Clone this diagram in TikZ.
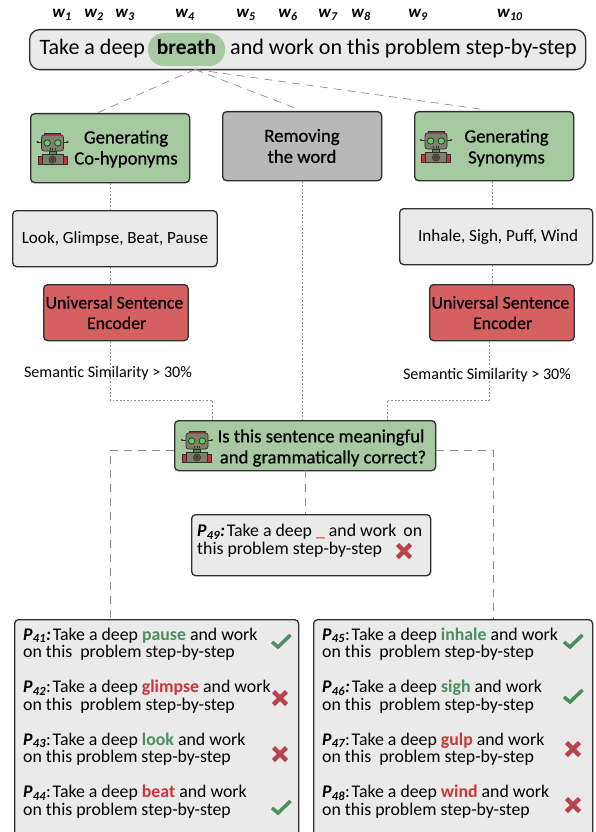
\documentclass[tikz,border=0pt]{standalone}
\usepackage{fontspec}
\setmainfont{Carlito}
\newfontfamily\semi[FakeBold=0.6]{Carlito}
\definecolor{boxgrey}{HTML}{EAEAEA}
\definecolor{boxgreen}{HTML}{A7C9A2}
\definecolor{boxdark}{HTML}{B8B8B8}
\definecolor{boxred}{HTML}{D56062}
\definecolor{outl}{HTML}{2F2F2F}
\definecolor{okgreen}{HTML}{4A8F5C}
\definecolor{badred}{HTML}{C9373A}
\definecolor{crossred}{HTML}{B8434A}
\definecolor{dashgrey}{HTML}{8C8C8C}
\definecolor{robotbody}{HTML}{7F7F6B}
\definecolor{robotred}{HTML}{C8343C}
\definecolor{roboteye}{HTML}{5FD35F}
\tikzset{
  x=1pt,y=-1pt,
  base/.style={draw=outl,line width=1.3pt,rounded corners=4pt,inner sep=0pt,align=center,text=black},
  greybox/.style={base,fill=boxgrey},
  greenbox/.style={base,fill=boxgreen},
  darkbox/.style={base,fill=boxdark},
  redbox/.style={base,fill=boxred},
  dashconn/.style={draw=dashgrey,line width=.7pt,dash pattern=on 8pt off 6pt},
  dotconn/.style={draw=dashgrey,line width=.8pt,dash pattern=on 1.8pt off 1.8pt},
  wlabel/.style={inner sep=0pt,font=\fontsize{17}{17}\selectfont\bfseries\itshape},
  plain/.style={inner sep=0pt,align=left,anchor=north west},
  ptext/.style={plain,font=\fontsize{17.8}{17.5}\selectfont},
  boxtext/.style={align=center,font=\fontsize{18.7}{21}\selectfont\semi},
  usetext/.style={align=center,font=\fontsize{17.8}{20.5}\selectfont\semi},
  check/.pic={\draw[okgreen,line width=3.5pt] (-9,1)--(-3,6)--(9.5,-6);},
  cross/.pic={\draw[crossred,line width=4.5pt] (-6.5,-6.5)--(6.5,6.5) (-6.5,6.5)--(6.5,-6.5);},
  robot/.pic={
    \draw[outl,line width=.5pt] (-15,-7)--(15,-7);
    \fill[outl] (-15,-7) circle (1.1) (15,-7) circle (1.1);
    \draw[outl,line width=.6pt,fill=robotred] (-8,-16) rectangle (8,-13);
    \draw[outl,line width=.7pt,fill=robotbody,rounded corners=2.5pt] (-11,-14) rectangle (11,2);
    \draw[outl,line width=.7pt,fill=roboteye] (-5.3,-6) circle (3.2) (5.3,-6) circle (3.2);
    \foreach \mx in {-2.5,0,2.5}{\draw[outl,line width=.6pt] (\mx,-1) -- (\mx,.6);}
    \draw[outl,line width=.5pt,fill=okgreen] (-3.5,2) rectangle (3.5,5);
    \draw[outl,line width=.7pt,fill=robotred] (-14.5,7) rectangle (14.5,15.5);
    \draw[outl,line width=.7pt,fill=robotbody] (-10.5,5) rectangle (10.5,15.5);
    \draw[outl,line width=.6pt,fill=robotbody!70!black] (0,10.5) circle (3.6);
    \draw[outl,line width=.5pt] (0,10.5) circle (1.6);
  }
}
\newcommand{\wl}[1]{w\kern.3pt\textsubscript{#1}}
\newcommand{\pl}[2]{\textbf{\textit{P\kern.3pt\textsubscript{#1}}}#2\kern-3.5pt\relax}
\newcommand{\gw}[1]{{\color{okgreen}\textbf{#1}}}
\newcommand{\rw}[1]{{\color{badred}\textbf{#1}}}
\begin{document}
\begin{tikzpicture}
\useasboundingbox (0,0) rectangle (595,832);
\fill[white] (0,0) rectangle (595,832);
% free connector ends
\coordinate (bl) at (110,400);
\coordinate (brr) at (489,400);
\coordinate (br) at (387,400);
\coordinate (bm) at (212,400);
\coordinate (ql) at (110,450);
\coordinate (qr) at (493,450);
% boxes
\node[greybox,rounded corners=10pt,minimum width=556pt,minimum height=40pt,anchor=north west] (sent) at (29,29) {};
\node[fill=boxgreen,rounded corners=16pt,minimum width=77pt,minimum height=33pt,inner sep=0pt] (pill) at (186.5,49.5) {};
\node[greenbox,minimum width=159pt,minimum height=69pt,anchor=north west] (coh) at (30,113) {};
\node[darkbox,minimum width=159pt,minimum height=69pt,anchor=north west] (rem) at (222,111) {};
\node[greenbox,minimum width=159pt,minimum height=69pt,anchor=north west] (syn) at (414,111) {};
\node[greybox,minimum width=204.5pt,minimum height=56pt,anchor=north west,font=\fontsize{17.1}{20}\selectfont] (look) at (12,210) {Look, Glimpse, Beat, Pause};
\node[greybox,minimum width=193pt,minimum height=56pt,anchor=north west,font=\fontsize{17.1}{20}\selectfont] (inh) at (399,208) {\hspace*{4pt}Inhale, Sigh, Puff, Wind};
\node[redbox,usetext,minimum width=144.5pt,minimum height=56pt,anchor=north west] (usel) at (43,284) {Universal Sentence\hspace*{3pt}\\\hspace*{1.5pt}Encoder};
\node[redbox,usetext,minimum width=144.5pt,minimum height=56pt,anchor=north west] (user) at (429,284) {Universal Sentence\hspace*{3pt}\\\hspace*{1.5pt}Encoder};
\node[greenbox,minimum width=261pt,minimum height=50pt,anchor=north west] (ques) at (174,420) {};
\node[greybox,minimum width=239pt,minimum height=61pt,anchor=north west] (p49) at (191,514) {};
\node[greybox,minimum width=284pt,minimum height=230pt,anchor=north west] (pl) at (14,619) {};
\node[greybox,minimum width=279pt,minimum height=230pt,anchor=north west] (pr) at (313,619) {};
% connectors
\coordinate (stem) at (195,69.5);
\draw[dashconn] (stem) -- (coh.north -| 97,0);
\draw[dashconn] (stem) -- (295,108);
\draw[dashconn] (stem) -- (480,109);
\draw[dotconn] (coh.south -| bl) -- (look.north -| bl);
\draw[dotconn] (look.south -| bl) -- (usel.north -| bl);
\draw[dotconn] (usel.south -| bl) -- (bl) -- (bm) -- (ques.north -| bm);
\draw[dotconn] (syn.south -| 492,0) -- (inh.north -| 492,0);
\draw[dotconn] (inh.south -| 492,0) -- (user.north -| 492,0);
\draw[dotconn] (user.south -| brr) -- (brr) -- (br) -- (ques.north -| br);
\draw[dotconn] (rem.south) -- (ques.north -| rem.south);
\draw[dashconn] (ques.west |- ql) -- (ql) -- (pl.north -| ql);
\draw[dashconn] (ques.east |- qr) -- (qr) -- (pr.north -| qr);
\draw[dashconn] (305,470) -- (p49.north -| 305,0);
% labels
\node[inner sep=0pt,font=\fontsize{16.1}{18}\selectfont] (siml) at (108,373) {Semantic Similarity > 30\%};
\node[inner sep=0pt,font=\fontsize{16.1}{18}\selectfont] (simr) at (487,375) {Semantic Similarity > 30\%};
% word labels
\node[wlabel] (w1) at (62,15) {\wl{1}};
\node[wlabel] (w2) at (94,15) {\wl{2}};
\node[wlabel] (w3) at (125,15) {\wl{3}};
\node[wlabel] (w4) at (185,15) {\wl{4}};
\node[wlabel] (w5) at (246,15) {\wl{5}};
\node[wlabel] (w6) at (288,15) {\wl{6}};
\node[wlabel] (w7) at (328,15) {\wl{7}};
\node[wlabel] (w8) at (361,15) {\wl{8}};
\node[wlabel] (w9) at (418,15) {\wl{9}};
\node[wlabel] (w10) at (510,15) {\wl{10}};
% sentence
\node[plain,anchor=base west,font=\fontsize{22}{24}\selectfont] (t1) at (39.5,55) {Take a deep};
\node[inner sep=0pt,anchor=base,font=\fontsize{21.5}{24}\selectfont\bfseries] (t2) at (186.5,55) {breath};
\node[plain,anchor=base east,font=\fontsize{22.1}{24}\selectfont] (t3) at (577,55) {and work on this problem step-by-step};
% box titles
\node[inner sep=0pt,boxtext] (tcoh) at (126,149) {Generating\\Co-hyponyms};
\node[inner sep=0pt,boxtext] (trem) at (302,146) {Removing\\the word};
\node[inner sep=0pt,boxtext] (tsyn) at (506.5,148) {Generating\\Synonyms};
\node[inner sep=0pt,boxtext] (tques) at (321,448) {Is this sentence meaningful\\\hspace*{4pt}and grammatically correct?};
\pic at (52.5,149) {robot};
\pic at (436,147) {robot};
\pic at (197,447) {robot};
% P49
\node[ptext] (tp49) at (197,524) {\pl{49}{\textbf{\textit{:}}} Take a deep {\color{badred}\_} and work \,on\\this problem step-by-step};
\pic at (404,551) {cross};
% left panel
\node[ptext] (p41) at (23,627.5) {\pl{41}{\textbf{\textit{:}}} Take a deep \gw{pause} and work\\on this\ \ problem step-by-step};
\node[ptext] (p42) at (23,680) {\pl{42}{:} Take a deep \rw{glimpse} and work\\on this\ \ problem step-by-step};
\node[ptext] (p43) at (23,732.5) {\pl{43}{:} Take a deep \gw{look} and work\\on this problem step-by-step};
\node[ptext] (p44) at (23,785) {\pl{44}{:} Take a deep \rw{beat} and work\\on this problem step-by-step};
\pic at (281,641) {check};
\pic at (280,698) {cross};
\pic at (280,754) {cross};
\pic at (281,807) {check};
% right panel
\node[ptext] (p45) at (322,627.5) {\pl{45}{:} Take a deep \gw{inhale} and work\\on this\ \ problem step-by-step};
\node[ptext] (p46) at (322,680) {\pl{46}{\textbf{\textit{:}}} Take a deep \gw{sigh} and work\\on this\ \ problem step-by-step};
\node[ptext] (p47) at (322,732.5) {\pl{47}{:} Take a deep \rw{gulp} and work\\on this\ \ problem step-by-step};
\node[ptext] (p48) at (322,785) {\pl{48}{:} Take a deep \rw{wind} and work\\on this problem step-by-step};
\pic at (573,641) {check};
\pic at (573,696) {check};
\pic at (573,749) {cross};
\pic at (573,805) {cross};
\end{tikzpicture}
\end{document}
